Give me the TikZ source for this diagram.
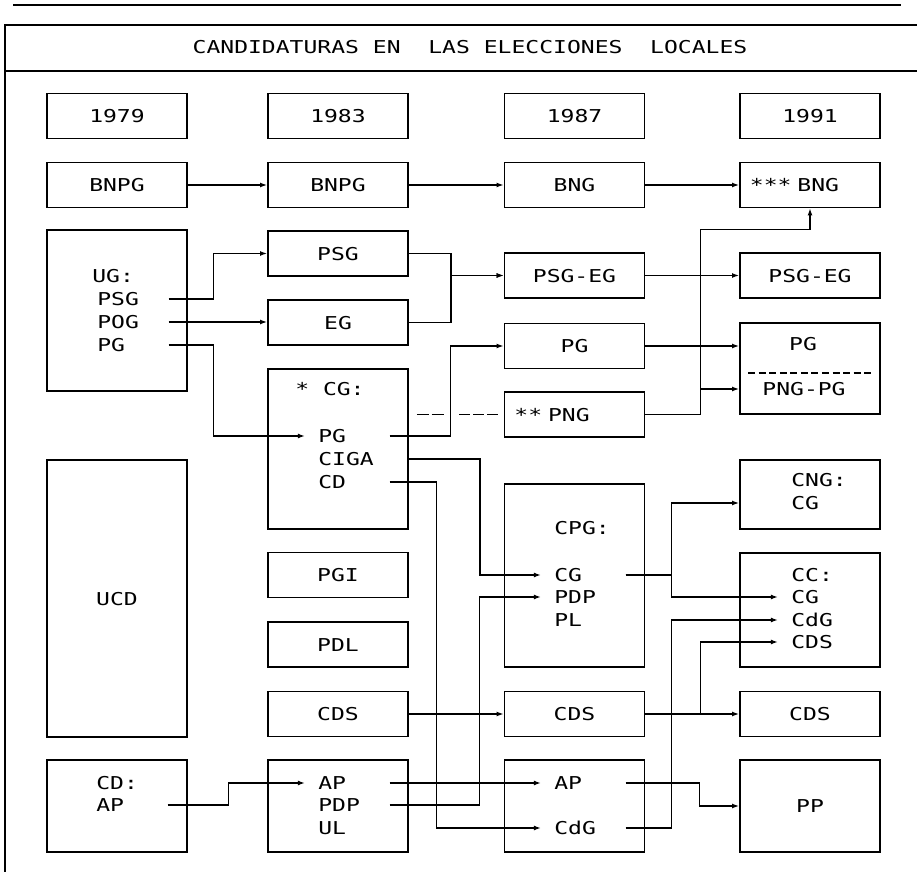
\documentclass[tikz,border=0pt]{standalone}
\usepackage{fontspec}
\newfontfamily\plotfont[FakeStretch=1.3]{DejaVu Sans Mono}
\usetikzlibrary{arrows.meta}

\begin{document}
\begin{tikzpicture}[x=0.025cm,y=-0.025cm,>={Latex[length=5pt,width=3.5pt]},
  every node/.style={font=\plotfont\fontsize{12.6}{15}\selectfont,text height=9.3pt,text depth=0pt},
  box/.style={draw,line width=1.2pt,inner sep=0pt,minimum width=3.5cm,minimum height=1.125cm},
  lbox/.style={box,inner xsep=0.25cm,text width=3cm,align=left},
  hd/.style={anchor=west,inner sep=0pt},
  item/.style={anchor=west,inner xsep=0.325cm,inner ysep=0pt,text width=1.45cm,align=left},
  link/.style={->,line width=1.2pt},
  rule/.style={line width=1.2pt}]
\useasboundingbox (0,0) rectangle (917,872);
\draw[rule] (13,5) -- (901,5);
\draw[rule] (917,25) -- (5,25) -- (5,872);
\draw[rule] (5,71) -- (917,71);
\node (title) at (470,47) {CANDIDATURAS EN~ LAS ELECCIONES~ LOCALES};
\foreach \x/\yr in {117/1979,338/1983,574.5/1987,810/1991}{\node[box] (y\yr) at (\x,116) {\yr};}
\node[box] (bnpg79) at (117,185) {BNPG};
\node[box] (bnpg83) at (338,185) {BNPG};
\node[box] (bng87) at (574.5,185) {BNG};
\node[lbox] (bng91) at (810,185) {*** BNG};
\node[box,minimum height=4.025cm] (ug79) at (117,310.5) {};
\node[hd] (ughd) at (92,276) {UG:};
\node[item] (ugpsg) at (84,299) {PSG};
\node[item] (ugpog) at (84,322) {POG};
\node[item] (ugpg) at (84,345) {PG};
\node[box] (psg83) at (338,253.5) {PSG};
\node[box] (eg83) at (338,322.5) {EG};
\node[box,minimum height=4cm] (cg83) at (338,449) {};
\node[hd] (cghd) at (295,389) {* CG:};
\node[item] (cgpg) at (305,436) {PG};
\node[item] (cgciga) at (305,459) {CIGA};
\node[item] (cgcd) at (305,482) {CD};
\node[box] (psgeg87) at (574.5,275.5) {PSG-EG};
\node[box] (pg87) at (574.5,346) {PG};
\node[lbox] (png87) at (574.5,414.5) {** PNG};
\node[box] (psgeg91) at (810,275.5) {PSG-EG};
\node[box,minimum height=2.275cm] (pg91) at (810,368.5) {};
\node (pg91a) at (803,344) {PG};
\node (pg91b) at (804,389) {PNG-PG};
\node[box,minimum height=6.925cm] (ucd79) at (117,598.5) {UCD};
\node[box,minimum height=4.575cm] (cpg87) at (574.5,575.5) {};
\node[hd] (cpghd) at (554,528) {CPG:};
\node[item] (cpgcg) at (541,575) {CG};
\node[item] (cpgpdp) at (541,597) {PDP};
\node[item] (cpgpl) at (541,620) {PL};
\node[box,minimum height=1.725cm] (cng91) at (810,494.5) {};
\node[hd] (cnghd) at (791,480) {CNG:};
\node[hd] (cngcg) at (791,503) {CG};
\node[box,minimum height=2.85cm] (cc91) at (810,610) {};
\node[hd] (cchd) at (791,575) {CC:};
\node[item] (cccg) at (778,597) {CG};
\node[item] (cccdg) at (778,620) {CdG};
\node[item] (cccds) at (778,642) {CDS};
\node[box] (pgi83) at (338,575) {PGI};
\node[box] (pdl83) at (338,644.5) {PDL};
\foreach \x/\c in {338/83,574.5/87,810/91}{\node[box] (cds\c) at (\x,714) {CDS};}
\node[box,minimum height=2.3cm] (cd79) at (117,806) {};
\node[hd] (cdhd) at (96,783) {CD:};
\node[item] (cdap) at (83,805) {AP};
\node[box,minimum height=2.3cm] (bot83) at (338,806) {};
\node[item] (ap83) at (305,783) {AP};
\node[item] (pdp83) at (305,805) {PDP};
\node[item] (ul83) at (305,828) {UL};
\node[box,minimum height=2.3cm] (bot87) at (574.5,806) {};
\node[item] (ap87) at (541,783) {AP};
\node[item] (cdg87) at (541,828) {CdG};
\node[box,minimum height=2.3cm] (pp91) at (810,806) {PP};
\draw[rule,dash pattern=on 5pt off 2.5pt] ([shift={(9,4.5)}]pg91.west) -- ([shift={(-7,4.5)}]pg91.east);
\draw[link] (bnpg79) -- (bnpg83);
\draw[link] (bnpg83) -- (bng87);
\draw[link] (bng87) -- (bng91);
\draw[link] (ugpsg.east) -- ++(45,0) |- (psg83.west);
\draw[link] (ugpog.east) -- (ugpog.east -| eg83.west);
\draw[link] (ugpg.east) -- ++(45,0) |- (cgpg.west);
\draw[link] (psg83.east) -- ++(42,0) |- (psgeg87.west);
\draw[link] (eg83.east) -- ++(42,0) |- (psgeg87.west);
\draw[link] (cgpg.east) -- ++(61,0) |- (pg87.west);
\draw[rule,dash pattern=on 8.5pt off 2pt on 8.5pt off 11pt on 8pt off 2pt on 8pt off 2pt on 8pt off 10pt] ([xshift=0.2cm]cg83.east |- png87) -- (png87.west);
\draw[link] (png87.east) -- ++(55,0) -- ++(0,-185) -| (bng91.south);
\draw[link] (png87.east) -- ++(55,0) |- (pg91.west |- pg91b);
\draw[link] (pg87.east) -- (pg87.east -| pg91.west);
\draw[link] (psgeg87) -- (psgeg91);
\draw[link] (cg83.east |- cgciga) -- ++(71,0) |- (cpgcg.west);
\draw[link] (cgcd.east) -- ++(47,0) |- (cdg87.west);
\draw[link] (cpgcg.east) -- ++(46,0) |- (cng91.west |- cngcg);
\draw[link] (cpgcg.east) -- ++(46,0) |- (cccg.west);
\draw[link] (pdp83.east) -- ++(90,0) |- (cpgpdp.west);
\draw[link] (cds83) -- (cds87);
\draw[link] (cds87) -- (cds91);
\draw[link] (cds87.east) -- ++(55,0) |- (cccds.west);
\draw[link] (cdg87.east) -- ++(46,0) |- (cccdg.west);
\draw[link] (ap87.east) -- ++(74,0) |- (pp91.west);
\draw[link] (ap83.east) -- (ap87.west);
\draw[link] (cdap.east) -- ++(61,0) |- (ap83.west);
\end{tikzpicture}
\end{document}
